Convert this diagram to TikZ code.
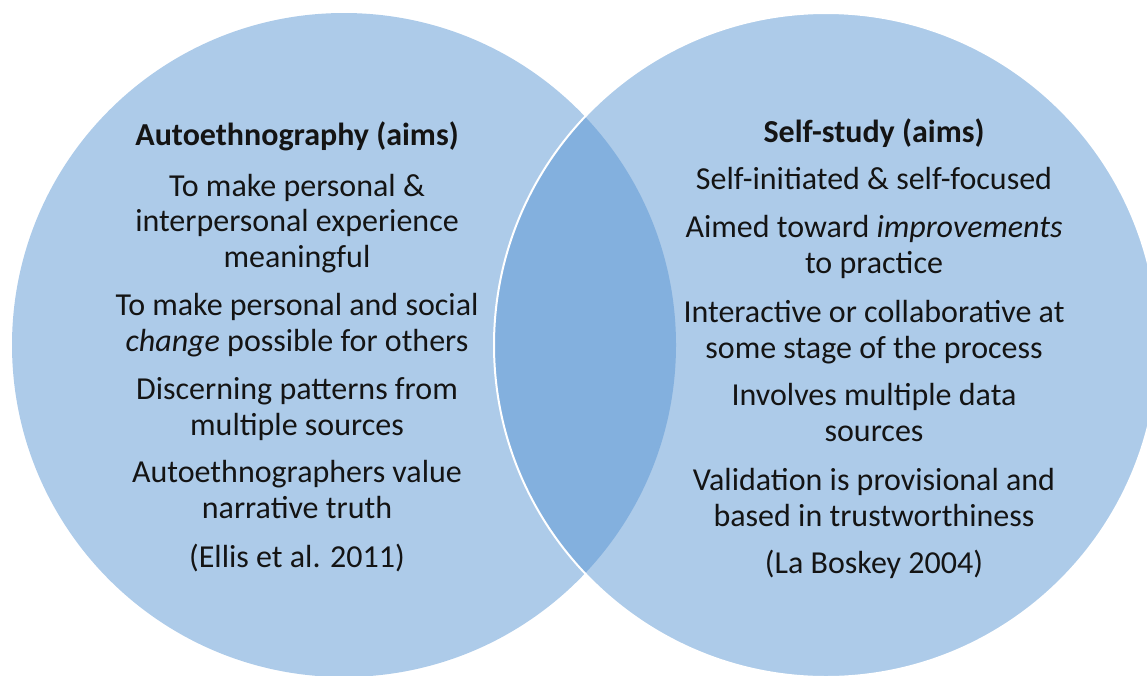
\documentclass[tikz,border=0pt]{standalone}
\usepackage{fontspec}
\setmainfont{Carlito}
\definecolor{venn}{RGB}{173,203,233}
\definecolor{overlap}{RGB}{131,176,222}
\begin{document}
\begin{tikzpicture}[x=1pt,y=-1pt,
  % each text block is placed by the baseline of its last line
  txt/.style={anchor=base, align=center, inner sep=0pt, text=black!92,
    font=\fontsize{32}{35.5}\selectfont},
  ttl/.style={txt, font=\fontsize{32}{35.5}\selectfont\bfseries}]
  \useasboundingbox (0,0) rectangle (1147,675);
  % the two sets
  \coordinate (cl) at (344,345);
  \coordinate (cr) at (826,345);
  \fill[venn] (cl) circle [radius=332pt];
  \fill[venn] (cr) circle [radius=332pt];
  % their intersection
  \begin{scope}
    \clip (cr) circle [radius=332pt];
    \fill[overlap] (cl) circle [radius=332pt];
  \end{scope}
  \draw[white, line width=2pt] (cr) circle [radius=332pt];

  % autoethnography
  \node[ttl] (lt) at (297,145) {Autoethnography (aims)};
  \node[txt] (l1) at (297,267) {To make personal \&\\interpersonal experience\\meaningful};
  \node[txt] (l2) at (297,351) {To make personal and social\\\textit{change} possible for others};
  \node[txt] (l3) at (297,435) {Discerning patterns from\\multiple sources};
  \node[txt] (l4) at (297,518) {Autoethnographers value\\narrative truth};
  \node[txt] (lr) at (297,567) {(Ellis et al. 2011)};

  % self-study
  \node[ttl] (rt) at (874,142) {Self-study (aims)};
  \node[txt] (r1) at (874,189) {Self-initiated \& self-focused};
  \node[txt] (r2) at (874,273) {Aimed toward \textit{improvements}\\to practice};
  \node[txt] (r3) at (874,358) {Interactive or collaborative at\\some stage of the process};
  \node[txt] (r4) at (874,441) {Involves multiple data\\sources};
  \node[txt] (r5) at (874,526) {Validation is provisional and\\based in trustworthiness};
  \node[txt] (rr) at (874,573) {(La Boskey 2004)};
\end{tikzpicture}
\end{document}
